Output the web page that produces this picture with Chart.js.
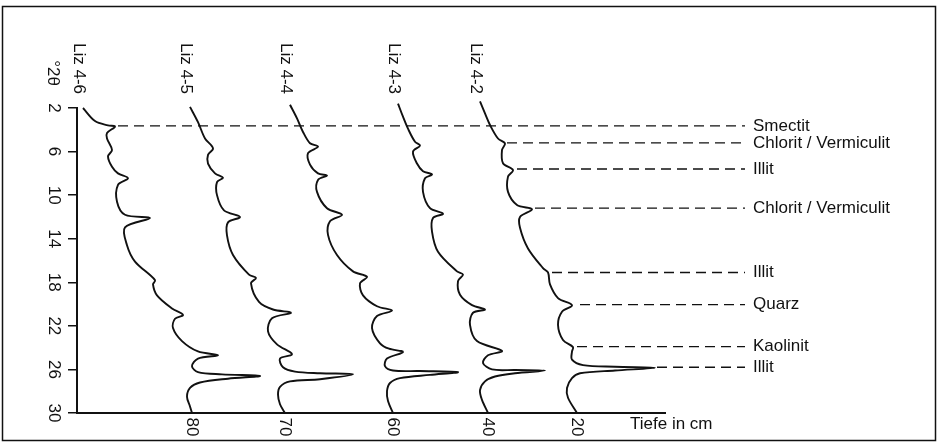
<!DOCTYPE html>
<html lang="de">
<head>
<meta charset="UTF-8" />
<title>Röntgendiffraktogramme Liz 4</title>
<script src="https://cdn.jsdelivr.net/npm/chart.js"></script>
<style>
  body { margin: 0; background: #fff; }
</style>
</head>
<body>
<canvas id="xrd" width="943" height="447"></canvas>
<script>
// sample names (top) and depth labels (bottom, Tiefe in cm)
var samples = ["Liz 4-6", "Liz 4-5", "Liz 4-4", "Liz 4-3", "Liz 4-2"];
var depths = ["80", "70", "60", "40", "20"];
var thetaTicks = [2, 6, 10, 14, 18, 22, 26, 30];

// diffractograms: [°2θ, shifted intensity]
var liz46 = [[2.0,6],[3.2,18],[3.6,31],[3.7,38],[4.3,30],[4.8,30],[5.85,35],[6.45,31],[7.4,35],[8.0,41],[8.45,51],[9.05,41],[10.6,40],[11.8,48],[12.1,73],[12.95,48],[14.6,50],[16.1,58],[17.8,78],[18.2,76],[19.2,80],[20.4,95],[21.0,106],[21.35,98],[22.2,96],[23.4,105],[24.35,121],[24.7,141],[25.0,121],[25.7,115],[26.25,121],[26.45,145],[26.6,183],[26.85,151],[27.2,123],[27.7,113],[28.5,110],[29.4,113],[30,115]];
var liz45 = [[1.9,113],[3.3,121],[4.8,128],[5.7,136],[6.3,131],[7.1,131],[8.0,138],[8.4,146],[8.8,140],[10.0,140],[11.4,147],[12.0,163],[12.5,151],[13.7,150],[15.5,156],[17.3,172],[17.6,179],[18.1,174],[19.8,182],[20.5,196],[20.8,214],[21.3,195],[22.5,191],[23.7,200],[24.6,215],[25.0,203],[25.8,206],[26.2,218],[26.35,243],[26.45,276],[26.9,243],[27.1,213],[27.6,203],[28.3,201],[29.2,203],[30,208]];
var liz44 = [[1.7,213],[2.95,220],[4.2,226],[5.24,233],[5.55,241],[6.15,231],[7.2,233],[8.0,241],[8.2,250],[8.6,241],[9.7,240],[11.2,250],[11.8,265],[12.4,253],[13.65,251],[15.5,260],[17.0,276],[17.5,290],[18.1,283],[19.2,286],[20.2,300],[20.6,315],[21.1,300],[22.2,295],[23.6,303],[24.1,312],[24.4,326],[25.0,310],[25.7,308],[26.1,316],[26.15,343],[26.25,381],[26.5,353],[26.8,323],[27.25,313],[28.0,310],[28.9,311],[30,316]];
var liz43 = [[1.6,321],[2.8,326],[3.9,331],[5.1,338],[5.45,343],[6.0,336],[7.1,340],[7.8,346],[8.1,355],[8.45,348],[9.7,346],[11.2,353],[11.7,366],[12.1,356],[13.35,355],[15.2,361],[17.0,380],[17.3,386],[17.9,381],[19.15,383],[20.1,395],[20.5,408],[20.8,396],[21.9,393],[23.4,400],[24.3,425],[24.7,411],[25.4,406],[26.0,415],[26.05,438],[26.1,468],[26.35,438],[26.65,418],[27.1,408],[27.9,403],[28.8,405],[30,411]];
var liz42 = [[1.4,403],[2.5,408],[3.56,413],[4.8,421],[5.25,428],[5.85,425],[7.07,426],[7.7,436],[8.3,431],[9.7,431],[10.9,440],[11.3,455],[12.0,443],[13.0,443],[14.9,451],[16.7,466],[17.1,471],[18.2,473],[19.45,481],[20.1,495],[20.7,485],[21.9,481],[23.3,486],[23.95,496],[24.35,495],[25.1,495],[25.6,506],[25.75,538],[25.85,578],[26.1,538],[26.35,503],[26.8,495],[27.7,490],[28.6,491],[30,500]];
var traces = [liz46, liz45, liz44, liz43, liz42];

// reflections marked with dashed lines
var minerals = ["Smectit", "Chlorit / Vermiculit", "Illit", "Chlorit / Vermiculit", "Illit", "Quarz", "Kaolinit", "Illit"];
var mineralTheta = [3.65, 5.2, 7.6, 11.2, 17.1, 20.05, 23.9, 25.8];
var mineralFrom = [41, 430, 440, 458, 475, 503, 500, 580];
var mineralTo = 668;

var ink = "#111";
var font = '17px "Liberation Sans", Arial, sans-serif';

var datasets = traces.map(function (tr, i) {
  return {
    label: samples[i],
    data: tr.map(function (p) { return { x: p[1], y: p[0] }; }),
    showLine: true,
    borderColor: ink,
    borderWidth: 1.9,
    pointRadius: 0,
    tension: 0.33,
    clip: false
  };
});
minerals.forEach(function (m, i) {
  datasets.push({
    label: m,
    data: [{ x: mineralFrom[i], y: mineralTheta[i] }, { x: mineralTo, y: mineralTheta[i] }],
    showLine: true,
    borderColor: ink,
    borderWidth: 1.3,
    borderDash: [10, 6],
    pointRadius: 0,
    clip: false
  });
});

// rotated and free text, frame
var textPlugin = {
  id: "texts",
  afterDraw: function (chart) {
    var ctx = chart.ctx, xs = chart.scales.x, ys = chart.scales.y;
    ctx.save();
    ctx.fillStyle = ink;
    ctx.font = font;
    function vtext(t, x, y, align) {
      ctx.save();
      ctx.translate(x, y);
      ctx.rotate(Math.PI / 2);
      ctx.textAlign = align || "center";
      ctx.textBaseline = "middle";
      ctx.fillText(t, 0, 0);
      ctx.restore();
    }
    thetaTicks.forEach(function (t) {
      vtext(String(t), 54, ys.getPixelForValue(t));
    });
    vtext("°2θ", 53, 73);
    traces.forEach(function (tr, i) {
      vtext(samples[i], xs.getPixelForValue(tr[0][1]) - 4, 43, "left");
      vtext(depths[i], xs.getPixelForValue(tr[tr.length - 1][1]), 427);
    });
    ctx.textAlign = "left";
    ctx.textBaseline = "middle";
    minerals.forEach(function (m, i) {
      ctx.fillText(m, xs.getPixelForValue(mineralTo) + 8, ys.getPixelForValue(mineralTheta[i]));
    });
    ctx.fillText("Tiefe in cm", 630, 424);
    ctx.strokeStyle = ink;
    ctx.lineWidth = 1.5;
    ctx.strokeRect(2.5, 6.5, 933, 434);
    ctx.restore();
  }
};

new Chart(document.getElementById("xrd"), {
  type: "scatter",
  data: { datasets: datasets },
  options: {
    responsive: false,
    animation: false,
    events: [],
    layout: { padding: { top: 108, right: 278, bottom: 0, left: 0 } },
    plugins: { legend: { display: false }, tooltip: { enabled: false } },
    scales: {
      x: {
        type: "linear",
        min: 0,
        max: 588,
        ticks: { display: false },
        grid: { display: false },
        border: { display: true, color: ink, width: 2 },
        afterFit: function (s) { s.height = 34; }
      },
      y: {
        type: "linear",
        reverse: true,
        min: 2,
        max: 30,
        afterBuildTicks: function (s) {
          s.ticks = thetaTicks.map(function (v) { return { value: v }; });
        },
        ticks: { display: false },
        grid: { drawOnChartArea: false, drawTicks: true, tickLength: 9, color: ink, lineWidth: 1.5 },
        border: { display: true, color: ink, width: 2 },
        afterFit: function (s) { s.width = 77; }
      }
    }
  },
  plugins: [textPlugin]
});
</script>
</body>
</html>
